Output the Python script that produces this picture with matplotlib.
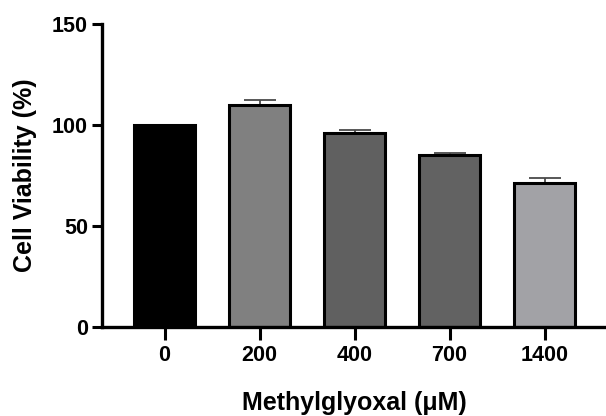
import matplotlib
matplotlib.use("Agg")
import matplotlib.pyplot as plt
import numpy as np

# Данные
doses = ["0", "200", "400", "700", "1400"]
viability = [100, 110, 96, 85, 71.5]
sem = [0, 2.5, 1.5, 1.0, 2.5]
bar_colors = ["#000000", "#808080", "#606060", "#626262", "#a2a2a6"]

plt.rcParams["font.family"] = ["Liberation Sans", "DejaVu Sans"]
plt.rcParams["font.weight"] = "bold"

fig = plt.figure(figsize=(6.06, 4.16), dpi=100)
ax = fig.add_axes([0.168, 0.214, 0.834, 0.728])

x = np.arange(len(doses))
ax.bar(x, viability, width=0.65, color=bar_colors, edgecolor="black",
       linewidth=2.2, zorder=2)
ax.errorbar(x[1:], viability[1:], yerr=[np.zeros(len(x) - 1), sem[1:]],
            fmt="none", ecolor="#4a4a4a", elinewidth=1.3, capsize=11.5,
            capthick=1.3, zorder=1)

ax.set_xlim(-0.66, 4.66)
ax.set_ylim(0, 150)
ax.set_yticks([0, 50, 100, 150])
ax.set_xticks(x)
ax.set_xticklabels(doses)

for s in ["top", "right"]:
    ax.spines[s].set_visible(False)
for s in ["left", "bottom"]:
    ax.spines[s].set_linewidth(2.4)

ax.tick_params(axis="y", length=7, width=2.2, labelsize=15.5, pad=3)
ax.tick_params(axis="x", length=9, width=2.2, labelsize=15.5, pad=4)
for lbl in ax.get_xticklabels() + ax.get_yticklabels():
    lbl.set_fontweight("bold")

ax.set_ylabel("Cell Viability (%)", fontsize=18, fontweight="bold", labelpad=11)
ax.set_xlabel("Methylglyoxal (μM)", fontsize=18, fontweight="bold", labelpad=18)

fig.savefig("out.png", dpi=100)
